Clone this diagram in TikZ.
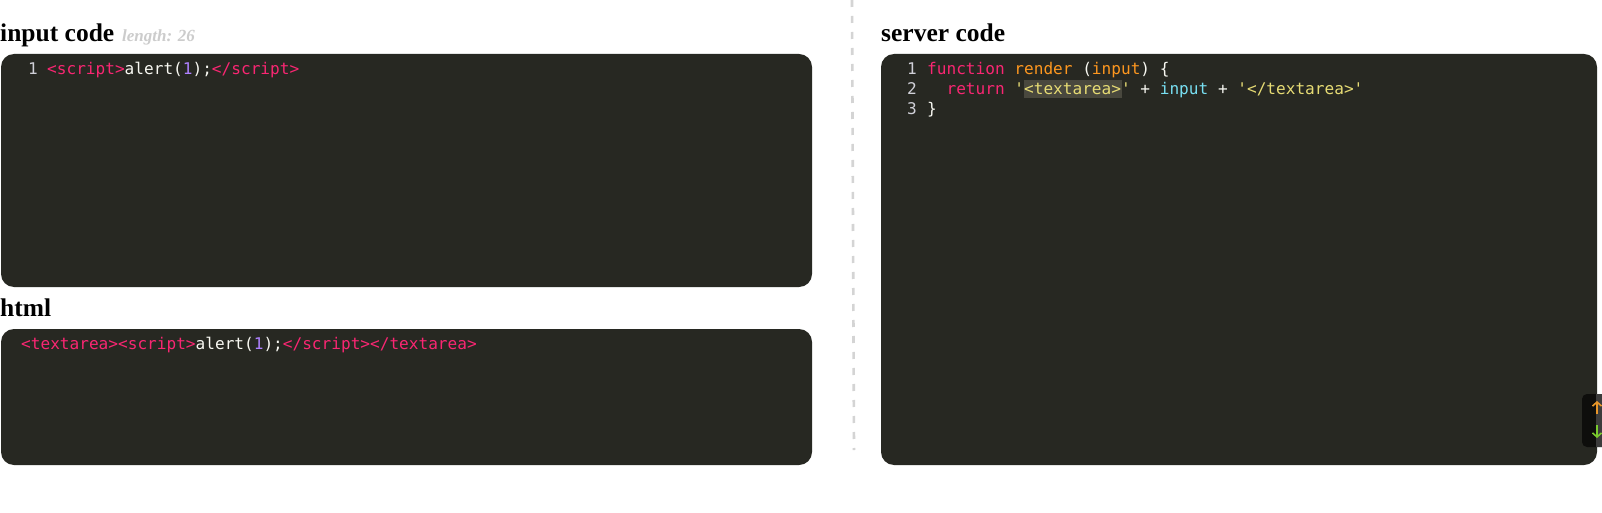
\documentclass[tikz,border=0pt]{standalone}
\usepackage{fontspec}
\setmainfont{Liberation Serif}
\setmonofont{DejaVu Sans Mono}
\usetikzlibrary{arrows.meta}
\definecolor{bg}{HTML}{272822}
\definecolor{mpink}{HTML}{F92672}
\definecolor{morange}{HTML}{FD971F}
\definecolor{myellow}{HTML}{E6DB74}
\definecolor{mcyan}{HTML}{78DFF2}
\definecolor{mpurple}{HTML}{AE81FF}
\definecolor{mwhite}{HTML}{F8F8F2}
\definecolor{lnumc}{HTML}{D0D0D8}
\definecolor{hl}{HTML}{49483E}
\definecolor{sepc}{HTML}{D4D4D4}
\definecolor{lengthgray}{HTML}{CCCCCC}
\definecolor{btn}{HTML}{0E0E0C}
\definecolor{track}{HTML}{3C3C3C}
\definecolor{upc}{HTML}{E8962A}
\definecolor{downc}{HTML}{7ACB2E}
\begin{document}
\begin{tikzpicture}[x=1pt,y=-1pt,
  panel/.style={fill=bg, rounded corners=13pt},
  title/.style={anchor=base west, inner sep=0pt, font=\fontsize{25.5}{25.5}\selectfont\bfseries},
  lenlabel/.style={anchor=base west, inner sep=0pt, text=lengthgray, font=\fontsize{17}{17}\selectfont\bfseries\itshape},
  code/.style={anchor=base west, inner sep=0pt, text=mwhite, font=\fontsize{16.1}{20}\selectfont\ttfamily},
  linenum/.style={code, text=lnumc},
  sepline/.style={draw=sepc, line width=2.6pt, dash pattern=on 7pt off 9pt}]
\useasboundingbox (0,0) rectangle (1602,513);
\fill[white] (0,0) rectangle (1602,513);

% separator
\coordinate (s1) at (852,0);
\coordinate (s2) at (854,450);
\draw[sepline] (s1) -- (s2);

% panels
\path[panel] (1,54) rectangle (812,287);
\path[panel] (1,329) rectangle (812,465);
\path[panel] (881,54) rectangle (1597,465);

% titles
\node[title] (t1) at (0,41.5) {input code};
\node[lenlabel] (len) at (122,41.5) {length: 26};
\node[title] (t2) at (0,316) {html};
\node[title] (t3) at (881,41.5) {server code};

% input code
\node[linenum] (ln1) at (28,75) {1};
\node[code] (c1) at (47,75) {\textcolor{mpink}{<script>}alert(\textcolor{mpurple}{1});\textcolor{mpink}{</script>}};

% html
\node[code] (h1) at (21,349.5) {\textcolor{mpink}{<textarea><script>}alert(\textcolor{mpurple}{1});\textcolor{mpink}{</script></textarea>}};

% server code
\fill[hl] (1024,80) rectangle (1122,98.5);
\node[linenum] (sn1) at (907,75) {1};
\node[linenum] (sn2) at (907,95) {2};
\node[linenum] (sn3) at (907,115) {3};
\node[code] (s1c) at (927,75) {\textcolor{mpink}{function} \textcolor{morange}{render} (\textcolor{morange}{input}) \{};
\node[code] (s2c) at (927,95) {\phantom{xx}\textcolor{mpink}{return} \textcolor{myellow}{'<textarea>'} + \textcolor{mcyan}{input} + \textcolor{myellow}{'</textarea>'}};
\node[code] (s3c) at (927,115) {\}};

% scroll button
\begin{scope}
\clip (0,0) rectangle (1602,513);
\fill[btn, rounded corners=5pt] (1582,394) rectangle (1620,447);
\fill[track] (1596,394) rectangle (1602,447);
\coordinate (ua) at (1597,414);
\coordinate (ub) at (1597,401);
\coordinate (da) at (1597,425);
\coordinate (db) at (1597,438);
\draw[upc, line width=1.6pt, -{Straight Barb[length=4pt,width=9pt]}] (ua) -- (ub);
\draw[downc, line width=1.6pt, -{Straight Barb[length=4pt,width=9pt]}] (da) -- (db);
\end{scope}
\end{tikzpicture}
\end{document}
